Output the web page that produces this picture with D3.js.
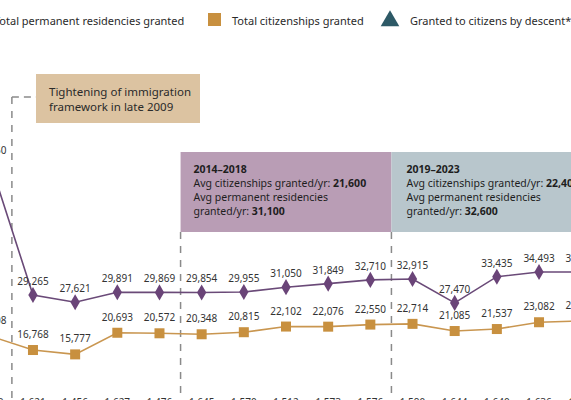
<!DOCTYPE html>
<html><head><meta charset="utf-8">
<script src="https://cdn.jsdelivr.net/npm/d3@7"></script>
<style>body{margin:0;background:#fff}svg{display:block;font-family:"Noto Sans",sans-serif}</style>
</head><body><svg id="c" width="571" height="400"></svg>
<script>
const years = [2009,2010,2011,2012,2013,2014,2015,2016,2017,2018,2019,2020,2021,2022,2023];
const residencies = [58950,29265,27621,29891,29869,29854,29955,31050,31849,32710,32915,27470,33435,34493,34520];
const citizenships = [19908,16768,15777,20693,20572,20348,20815,22102,22076,22550,22714,21085,21537,23082,23400];
const descent = [1620,1621,1456,1627,1476,1645,1570,1512,1573,1576,1590,1644,1640,1636,1650];
const periodBreaks = [2009.5,2013.5,2018.5];

const svg = d3.select('#c');
const x = d3.scaleLinear().domain([2009,2023]).range([-9.2,581.2]);
const y = d3.scaleLinear().domain([0,30000]).range([423.8,291.8]);
const fmt = d3.format(',');

// annotation boxes
svg.append('rect').attr('x',x(2013.5)).attr('y',152).attr('width',x(2018.5)-x(2013.5)).attr('height',80).attr('fill','#b99db5');
svg.append('rect').attr('x',x(2018.5)).attr('y',152).attr('width',220).attr('height',80).attr('fill','#b8c6cc');
svg.append('rect').attr('x',36).attr('y',74).attr('width',164).attr('height',49).attr('fill','#dcc3a1');

const t1 = svg.append('text').attr('x',49).attr('y',96).attr('font-size',11.5).attr('fill','#2a2a2a');
t1.append('tspan').text('Tightening of immigration');
t1.append('tspan').attr('x',49).attr('dy',15).text('framework in late 2009');

function boxText(x0, title, c, p) {
  const t = svg.append('text').attr('x',x0).attr('y',173).attr('font-size',10.5).attr('fill','#1e1e1e');
  t.append('tspan').attr('font-weight','bold').text(title);
  t.append('tspan').attr('x',x0).attr('dy',14).text('Avg citizenships granted/yr: ');
  t.append('tspan').attr('font-weight','bold').text(c);
  t.append('tspan').attr('x',x0).attr('dy',14).text('Avg permanent residencies');
  t.append('tspan').attr('x',x0).attr('dy',14).text('granted/yr: ');
  t.append('tspan').attr('font-weight','bold').text(p);
}
boxText(x(2013.5)+13,'2014–2018','21,600','31,100');
boxText(x(2018.5)+15,'2019–2023','22,400','32,600');

// dashed period lines
periodBreaks.forEach((b,i) => {
  svg.append('line').attr('x1',x(b)).attr('x2',x(b)).attr('y1',i===0?97:232).attr('y2',400)
    .attr('stroke','#8a8a8a').attr('stroke-width',1.5).attr('stroke-dasharray','7,7');
});
svg.append('line').attr('x1',x(2009.5)).attr('x2',36).attr('y1',97).attr('y2',97)
  .attr('stroke','#8a8a8a').attr('stroke-width',1.5).attr('stroke-dasharray','7,5');

// lines
const line = d3.line().x((d,i)=>x(years[i])).y(d=>y(d));
svg.append('path').datum(residencies).attr('d',line).attr('fill','none').attr('stroke','#6a4a78').attr('stroke-width',1.6);
svg.append('path').datum(citizenships).attr('d',line).attr('fill','none').attr('stroke','#c99650').attr('stroke-width',1.6);

svg.selectAll('.dia').data(residencies).enter().append('path')
  .attr('d',d3.symbol(d3.symbolDiamond,75)())
  .attr('transform',(d,i)=>`translate(${x(years[i])},${y(d)})`).attr('fill','#6a4478');
svg.selectAll('.sq').data(citizenships).enter().append('rect')
  .attr('x',(d,i)=>x(years[i])-5).attr('y',d=>y(d)-5).attr('width',10).attr('height',10).attr('fill','#c8903f');

const lab = (data, dy) => svg.selectAll(null).data(data).enter().append('text')
  .attr('x',(d,i)=>x(years[i])).attr('y',d=>y(d)+dy).attr('text-anchor','middle')
  .attr('font-size',10).attr('fill','#333').text(d=>fmt(d));
lab(residencies,-10);
lab(citizenships,-12);
svg.selectAll(null).data(descent).enter().append('text')
  .attr('x',(d,i)=>x(years[i])).attr('y',406).attr('text-anchor','middle')
  .attr('font-size',10).attr('fill','#333').text(d=>fmt(d));

// legend
svg.append('text').attr('x',-6).attr('y',25).attr('font-size',11).attr('fill','#2a2a2a').text('Total permanent residencies granted');
svg.append('rect').attr('x',208).attr('y',13).attr('width',13).attr('height',13).attr('fill','#c8903f');
svg.append('text').attr('x',232).attr('y',25).attr('font-size',11).attr('fill','#2a2a2a').text('Total citizenships granted');
svg.append('path').attr('d',d3.symbol(d3.symbolTriangle,150)()).attr('transform','translate(390,21)').attr('fill','#2d5966');
svg.append('text').attr('x',410).attr('y',25).attr('font-size',11).attr('fill','#2a2a2a').text('Granted to citizens by descent*');
</script></body></html>
